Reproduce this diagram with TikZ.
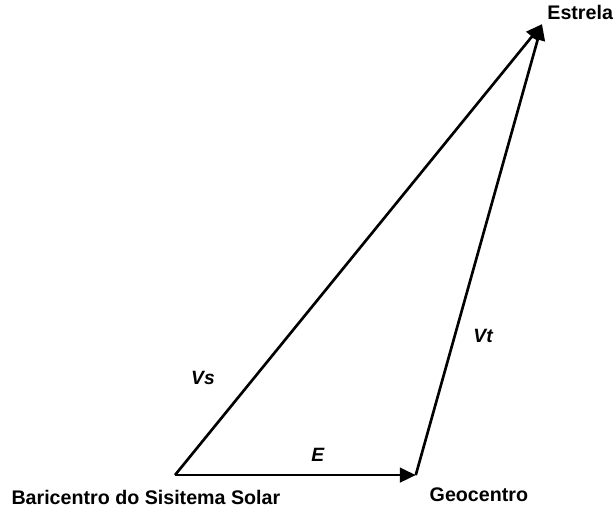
\documentclass[tikz,border=0pt]{standalone}
\usepackage{fontspec}
\setmainfont{Liberation Sans}
\usetikzlibrary{arrows.meta}

\tikzset{
    vecline/.style={line width=2pt, -{Triangle[length=12pt,width=11pt]}},
    placelabel/.style={font=\bfseries\fontsize{14.8}{17}\selectfont},
    veclabel/.style={font=\bfseries\itshape\fontsize{14.5}{17}\selectfont}
}

\begin{document}
\begin{tikzpicture}
                \useasboundingbox (0,0) rectangle (16.245,13.6);

                % Points
                \coordinate (bari) at (4.63,1.03);
                \coordinate (geo) at (11.0,1.03);
                \coordinate (star) at (14.34,12.96);

                % Place labels
                \node[placelabel] (barilabel) at (3.86,0.45) {Baricentro do Sisitema Solar};
                \node[placelabel] (geolabel) at (12.67,0.50) {Geocentro};
                \node[placelabel] (starlabel) at (15.35,13.26) {Estrela};

                % Vectors
                \draw[vecline] (bari) -- (star);
                \draw[vecline] (geo) -- (star);
                \draw[vecline] (bari) -- (geo);

                % Vector labels
                \node[veclabel] (vs) at (5.37,3.60) {Vs};
                \node[veclabel] (vt) at (12.78,4.71) {Vt};
                \node[veclabel] (e) at (8.41,1.56) {E};
            \end{tikzpicture}
\end{document}
